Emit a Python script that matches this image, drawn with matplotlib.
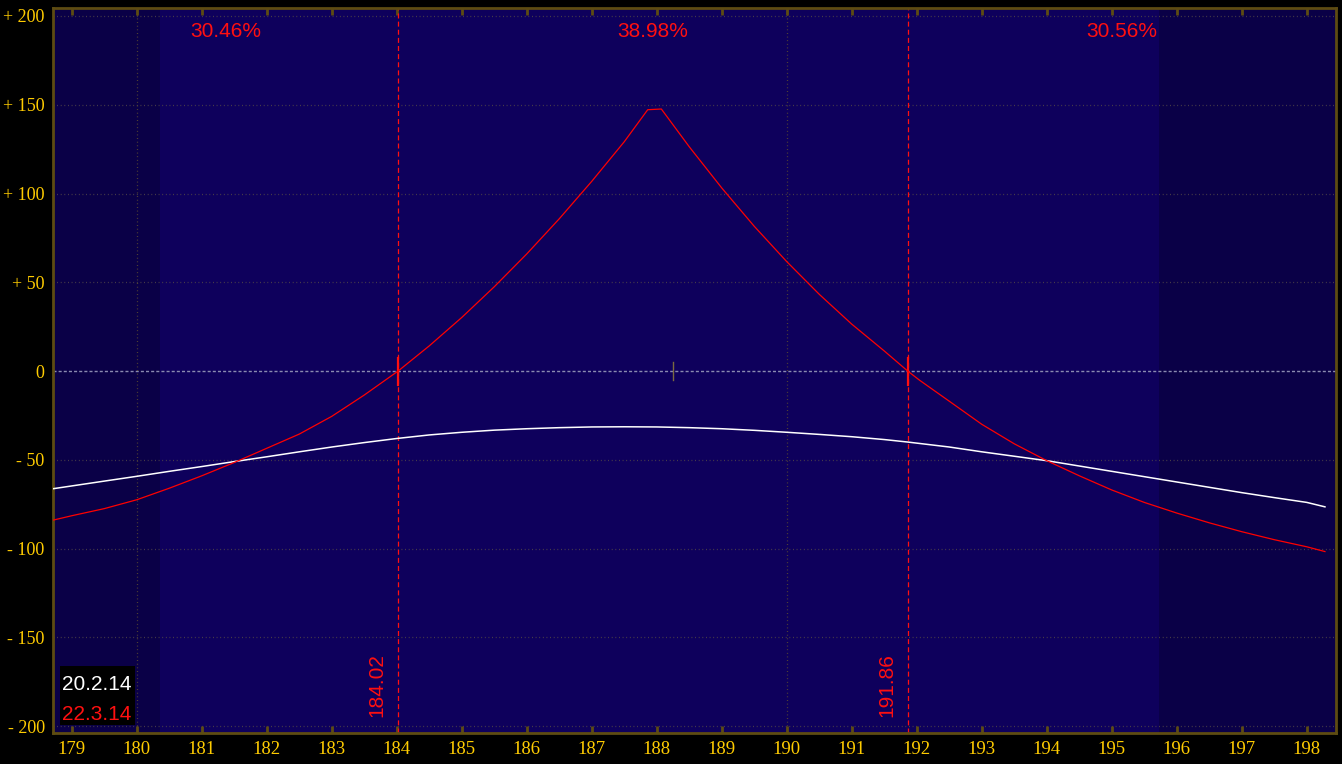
import numpy as np
import matplotlib.pyplot as plt
from matplotlib.patches import Rectangle

# curve for 22.3.14 (red)
red_x = [178.71, 179.0, 179.5, 180.0, 180.5, 181.0, 181.5, 182.0, 182.5,
         183.0, 183.5, 184.02, 184.5, 185.0, 185.5, 186.0, 186.5, 187.0,
         187.5, 187.86, 188.07, 188.5, 189.0, 189.5, 190.0, 190.5, 191.0,
         191.5, 191.86, 192.04, 192.5, 193.0, 193.5, 194.0, 194.5, 195.0,
         195.5, 196.0, 196.5, 197.0, 197.5, 198.0, 198.28]
red_y = [-84, -81.5, -77.5, -72.5, -66, -59, -51.5, -43.5, -35.5,
         -25.5, -13.5, 0, 14.2, 30.2, 47.5, 66.0, 85.8, 106.9,
         129.2, 147.2, 147.6, 126.3, 103.1, 81.5, 61.6, 43.2, 26.4,
         11.3, 0, -5.1, -17, -30, -41, -50.5, -59, -67,
         -74, -80, -85.5, -90.5, -95, -99, -101.7]

# curve for 20.2.14 (white)
white_x = [178.71, 179.5, 180.0, 180.5, 181.0, 181.5, 182.0, 182.5, 183.0,
           183.5, 184.0, 184.5, 185.0, 185.5, 186.0, 186.5, 187.0, 187.5,
           188.0, 188.5, 189.0, 189.5, 190.0, 190.5, 191.0, 191.5, 191.86,
           192.5, 193.0, 193.5, 194.0, 194.5, 195.0, 195.5, 196.0, 196.5,
           197.0, 197.5, 198.0, 198.28]
white_y = [-66.3, -62, -59.3, -56.5, -53.8, -51, -48.3, -45.5, -42.8,
           -40.3, -38, -36, -34.5, -33.3, -32.5, -31.9, -31.5, -31.4,
           -31.5, -31.9, -32.5, -33.4, -34.5, -35.7, -37, -38.6, -40,
           -42.8, -45.5, -48, -50.5, -53.5, -56.5, -59.5, -62.5, -65.5,
           -68.5, -71.3, -74, -76.5]

breakevens = [184.02, 191.86]
pct_labels = ["30.46%", "38.98%", "30.56%"]
band = [180.35, 195.72]
spot = 188.25
dates = ["20.2.14", "22.3.14"]

x_ticks = list(range(179, 199))
y_ticks = [200, 150, 100, 50, 0, -50, -100, -150, -200]

xlim = (178.71, 198.45)
ylim = (-203.9, 204.5)

gold = "#ffcc00"
frame = "#5e4c12"
inner = "#0e005c"
outer = "#0a0047"

fig = plt.figure(figsize=(13.42, 7.64), dpi=100, facecolor="black")
ax = fig.add_axes([53 / 1342, 1 - 733 / 764, (1336 - 53) / 1342, (733 - 8) / 764])
ax.set_facecolor(outer)
ax.set_xlim(*xlim)
ax.set_ylim(*ylim)

# one sigma band
ax.axvspan(band[0], band[1], color=inner, lw=0, zorder=0)

# grid
for yv in y_ticks:
    if yv == 0:
        ax.axhline(0, color="#8a8ab0", lw=1.0, dashes=(2.2, 1.5), zorder=1)
    else:
        ax.axhline(yv, color="#4f4448", lw=0.9, dashes=(0.7, 2.2), zorder=1)
for xv in [180, 190]:
    ax.axvline(xv, color="#5a4a30", lw=0.9, dashes=(0.7, 2.2), zorder=1)

# break-even lines
for be in breakevens:
    ax.axvline(be, color="#ff1010", lw=0.9, dashes=(4, 2.5), zorder=2)
    ax.plot([be, be], [-8, 7.5], color="#ff1010", lw=1.6, zorder=4)
    ax.text(be - 0.32, -177, "{:.2f}".format(be), color="#ff1010",
            fontsize=15, family="Liberation Sans", rotation=90,
            ha="center", va="center", zorder=5)

ax.plot([spot, spot], [-5, 5], color="#7a6a40", lw=1.0, zorder=3)

ax.plot(white_x, white_y, color="white", lw=1.1, zorder=3)
ax.plot(red_x, red_y, color="#ff0000", lw=0.9, zorder=4)

# probability labels
edges = [xlim[0]] + breakevens + [xlim[1]]
for i, lab in enumerate(pct_labels):
    cx = (edges[i] + edges[i + 1]) / 2
    ax.text(cx, 191.5, lab, color="#ff1010", fontsize=15,
            family="Liberation Sans", ha="center", va="center", zorder=5)

# date legend
ax.add_patch(Rectangle((178.82, -199.5), 1.15, 33.5, facecolor="black",
                       edgecolor="none", zorder=5))
ax.text(178.85, -176.5, dates[0], color="white", fontsize=15,
        family="Liberation Sans", va="center", ha="left", zorder=6)
ax.text(178.85, -193.5, dates[1], color="#ff1010", fontsize=15,
        family="Liberation Sans", va="center", ha="left", zorder=6)

ax.set_xticks(x_ticks)
ax.set_xticklabels([str(t) for t in x_ticks], color=gold, fontsize=13.5,
                   family="Liberation Serif")
ax.tick_params(axis="x", direction="in", length=5, width=2, color=frame,
               top=True, pad=6)
ax.set_yticks(y_ticks)
ylabels = []
for t in y_ticks:
    if t > 0:
        ylabels.append("+ {}".format(t))
    elif t < 0:
        ylabels.append("- {}".format(-t))
    else:
        ylabels.append("0")
ax.set_yticklabels(ylabels, color=gold, fontsize=13, family="Liberation Serif")
ax.tick_params(axis="y", length=0, pad=6)

for s in ax.spines.values():
    s.set_color(frame)
    s.set_linewidth(2)

fig.savefig("out.png", dpi=100, facecolor="black")
